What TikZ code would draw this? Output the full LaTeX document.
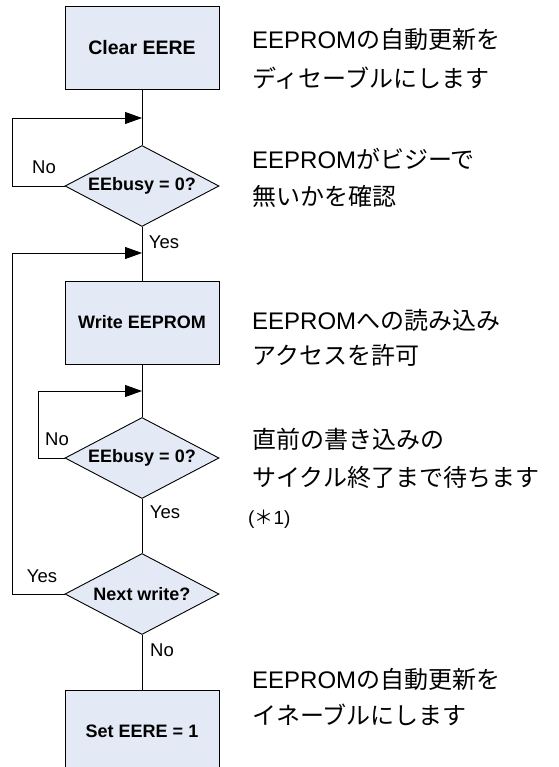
\documentclass[tikz,border=0pt]{standalone}
\usepackage{fontspec}
\setmainfont{Liberation Sans}
\newfontfamily\jp{Noto Sans CJK JP}
\usetikzlibrary{arrows.meta,shapes.geometric}
\definecolor{boxfill}{RGB}{228,234,245}
\begin{document}
\begin{tikzpicture}[x=1pt,y=-1pt,
  proc/.style={draw=black,fill=boxfill,line width=0.9pt,minimum width=154pt,minimum height=83pt,inner sep=0pt,font=\fontsize{18}{20}\selectfont\bfseries},
  dec/.style={diamond,aspect=1.9,draw=black,fill=boxfill,line width=0.9pt,minimum width=154pt,minimum height=81pt,inner sep=0pt,font=\fontsize{18}{20}\selectfont\bfseries},
  conn/.style={draw=black,line width=0.9pt},
  arr/.style={conn,-{Triangle[length=17pt,width=12pt]}},
  lbl/.style={inner sep=0pt,font=\fontsize{18.5}{20}\selectfont},
  note/.style={anchor=west,inner sep=0pt,text height=17pt,text depth=5pt,font=\fontsize{24}{28}\selectfont}]
\useasboundingbox (0,0) rectangle (558,767);
\clip (0,0) rectangle (558,767);
% nodes
\node[proc,font=\fontsize{19.5}{22}\selectfont\bfseries] (b1) at (142,47.5) {Clear EERE};
\node[dec] (d1) at (142,186) {EEbusy = 0?};
\node[proc] (b2) at (142,322.5) {Write EEPROM};
\node[dec] (d2) at (142,458) {EEbusy = 0?};
\node[dec] (d3) at (142,594) {Next write?};
\node[proc] (b3) at (142,731.5) {Set EERE = 1};
% junctions
\coordinate (j1) at (142,118);
\coordinate (j2) at (142,253);
\coordinate (j3) at (142,391);
% connectors
\draw[conn] (b1.south) -- (d1.north);
\draw[conn] (d1.south) -- (b2.north);
\draw[conn] (b2.south) -- (d2.north);
\draw[conn] (d2.south) -- (d3.north);
\draw[conn] (d3.south) -- (b3.north);
\draw[arr] (d1.west) -- ++(-52,0) |- (j1);
\draw[arr] (d3.west) -- ++(-52,0) |- (j2);
\draw[arr] (d2.west) -- ++(-26,0) |- (j3);
% labels
\node[lbl] (no1) at (44,167) {No};
\node[lbl] (yes1) at (164,242) {Yes};
\node[lbl] (no2) at (57,439) {No};
\node[lbl] (yes2) at (165,512) {Yes};
\node[lbl] (yes3) at (42,576) {Yes};
\node[lbl] (no3) at (162,650) {No};
% notes
\node[note] (t1a) at (252,43) {EEPROM{\jp の自動更新を}};
\node[note] (t1b) at (252,82) {\jp ディセーブルにします};
\node[note] (t2a) at (252,163) {EEPROM{\jp がビジーで}};
\node[note] (t2b) at (252,200) {\jp 無いかを確認};
\node[note] (t3a) at (252,323) {EEPROM{\jp への読み込み}};
\node[note] (t3b) at (252,358) {\jp アクセスを許可};
\node[note] (t4a) at (252,442) {\jp 直前の書き込みの};
\node[note] (t4b) at (252,480) {\jp サイクル終了まで待ちます};
\node[note,font=\fontsize{19}{21}\selectfont] (t4c) at (248,518) {({\jp ＊}1)};
\node[note] (t5a) at (252,682) {EEPROM{\jp の自動更新を}};
\node[note] (t5b) at (252,718) {\jp イネーブルにします};
\end{tikzpicture}
\end{document}
